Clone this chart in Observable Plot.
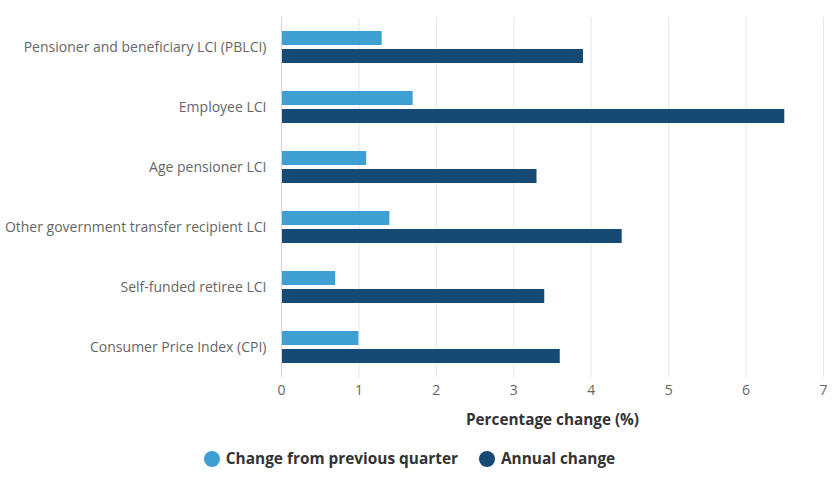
<!DOCTYPE html>
<html>
<head>
<meta charset="utf-8">
<script src="https://cdn.jsdelivr.net/npm/d3@7"></script>
<script src="https://cdn.jsdelivr.net/npm/@observablehq/plot@0.6"></script>
<style>
  html, body { margin: 0; padding: 0; background: #fff; }
  body { font-family: "Open Sans", sans-serif; width: 836px; }
  g[aria-label="x-axis label"] text, g[aria-label="x-axis label"] { font-weight: 700; font-size: 15.3px; fill: #333; }
  .legend { display: flex; justify-content: center; align-items: center; gap: 21px; margin-top: 12px; padding-right: 17px; font-weight: 700; font-size: 15.4px; color: #333; }
  .legend span.item { display: inline-flex; align-items: center; }
  .legend i { display: inline-block; width: 16px; height: 16px; border-radius: 50%; margin-right: 6px; }
</style>
</head>
<body>
<div id="chart"></div>
<script>
const categories = [
  "Pensioner and beneficiary LCI (PBLCI)",
  "Employee LCI",
  "Age pensioner LCI",
  "Other government transfer recipient LCI",
  "Self-funded retiree LCI",
  "Consumer Price Index (CPI)"
];
const quarterly = [1.3, 1.7, 1.1, 1.4, 0.7, 1.0];
const annual = [3.9, 6.5, 3.3, 4.4, 3.4, 3.6];
const seriesNames = ["Change from previous quarter", "Annual change"];
const xTicks = [0, 1, 2, 3, 4, 5, 6, 7];
const colors = ["#3e9fd3", "#144a73"];

const qRows = categories.map((c, i) => ({cat: c, value: quarterly[i]}));
const aRows = categories.map((c, i) => ({cat: c, value: annual[i]}));

const chart = Plot.plot({
  width: 836,
  height: 436,
  marginLeft: 281,
  marginRight: 13,
  marginTop: 17,
  marginBottom: 59,
  style: {fontFamily: "Open Sans", fontSize: "14px", color: "#666", background: "#fff"},
  x: {domain: [0, 7], ticks: xTicks, tickFormat: d3.format("d"), tickSize: 0, tickPadding: 8, label: "Percentage change (%)", labelAnchor: "center", labelArrow: "none", labelOffset: 47},
  y: {domain: categories, padding: 0, label: null, tickSize: 0, tickPadding: 15},
  marks: [
    Plot.gridX(xTicks.slice(1), {stroke: "#e6e6e6", strokeOpacity: 1}),
    Plot.barX(qRows, {x: "value", y: "cat", fill: colors[0], insetTop: 14, insetBottom: 32}),
    Plot.barX(aRows, {x: "value", y: "cat", fill: colors[1], insetTop: 32, insetBottom: 14}),
    Plot.ruleX([0], {stroke: "#ccd6eb"})
  ]
});
document.getElementById("chart").appendChild(chart);

const legend = document.createElement("div");
legend.className = "legend";
seriesNames.forEach((n, i) => {
  const item = document.createElement("span");
  item.className = "item";
  const dot = document.createElement("i");
  dot.style.background = colors[i];
  item.appendChild(dot);
  item.appendChild(document.createTextNode(n));
  legend.appendChild(item);
});
document.body.appendChild(legend);
</script>
</body>
</html>
